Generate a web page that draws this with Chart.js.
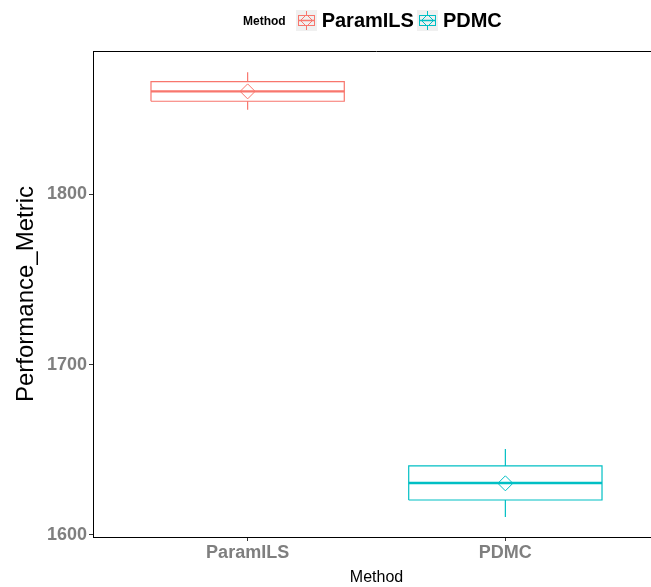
<!DOCTYPE html>
<html>
<head>
<meta charset="utf-8">
<script src="https://cdn.jsdelivr.net/npm/chart.js@4.4.0/dist/chart.umd.min.js"></script>
<style>
html, body { margin: 0; padding: 0; background: #fff; overflow: hidden; width: 651px; height: 587px; }
#wrap { position: relative; width: 670px; height: 587px; }
#legend { position: absolute; top: 9px; left: 243px; display: flex; align-items: center; font-family: 'Liberation Sans', Arial, sans-serif; font-weight: bold; white-space: nowrap; }
#legend .ttl { font-size: 12px; margin-right: 10px; }
#legend .lbl { font-size: 20px; margin-left: 5px; margin-right: 3px; }
#legend svg { display: block; }
</style>
</head>
<body>
<div id="wrap">
  <canvas id="chart" width="670" height="587"></canvas>
  <div id="legend"></div>
</div>
<script>
var methods = ['ParamILS', 'PDMC'];
var colors = ['#F8766D', '#00BFC4'];
var whiskerLow = [1849.5, 1610.5];
var q1 = [1854.5, 1620.5];
var median = [1860.3, 1630.5];
var q3 = [1866, 1640.5];
var whiskerHigh = [1871.5, 1650.5];
var means = [1860.3, 1630.3];
var yTicks = [1600, 1700, 1800];

// legend (html)
var legendHtml = '<span class="ttl">Method</span>';
methods.forEach(function (m, i) {
    var c = colors[i];
    legendHtml += '<svg width="21" height="21">' +
        '<rect width="21" height="21" fill="#f0f0f0"/>' +
        '<line x1="10.5" y1="1" x2="10.5" y2="20" stroke="' + c + '"/>' +
        '<rect x="2.5" y="5.5" width="16" height="10" fill="#f0f0f0" stroke="' + c + '"/>' +
        '<line x1="2.5" y1="10.5" x2="18.5" y2="10.5" stroke="' + c + '" stroke-width="1.5"/>' +
        '<polygon points="10.5,4.5 16.5,10.5 10.5,16.5 4.5,10.5" fill="none" stroke="' + c + '"/>' +
        '</svg><span class="lbl">' + m + '</span>';
});
document.getElementById('legend').innerHTML = legendHtml;

function line(points, color, width) {
    return {
        data: points,
        showLine: true,
        borderColor: color,
        borderWidth: width,
        pointRadius: 0,
        fill: false,
        tension: 0
    };
}

var datasets = [];
methods.forEach(function (m, i) {
    var x = i + 1, w = 0.375, c = colors[i];
    datasets.push(line([{x: x, y: q3[i]}, {x: x, y: whiskerHigh[i]}], c, 1.2));
    datasets.push(line([{x: x, y: q1[i]}, {x: x, y: whiskerLow[i]}], c, 1.2));
    datasets.push(line([
        {x: x - w, y: q1[i]}, {x: x + w, y: q1[i]},
        {x: x + w, y: q3[i]}, {x: x - w, y: q3[i]},
        {x: x - w, y: q1[i]}
    ], c, 1.2));
    datasets.push(line([{x: x - w, y: median[i]}, {x: x + w, y: median[i]}], c, 2.4));
    datasets.push({
        data: [{x: x, y: means[i]}],
        pointStyle: 'rectRot',
        pointRadius: 7.5,
        pointBorderColor: c,
        pointBackgroundColor: 'rgba(0,0,0,0)',
        pointBorderWidth: 1,
        showLine: false
    });
});

var frame = {
    id: 'frame',
    afterDraw: function (chart) {
        var a = chart.chartArea, ctx = chart.ctx;
        ctx.save();
        ctx.strokeStyle = '#000';
        ctx.lineWidth = 1;
        ctx.beginPath();
        ctx.moveTo(a.left, Math.round(a.top) + 0.5);
        ctx.lineTo(a.right, Math.round(a.top) + 0.5);
        ctx.lineTo(a.right, a.bottom);
        ctx.stroke();
        ctx.restore();
    }
};

var tickFont = {family: "'Liberation Sans', Arial, sans-serif", size: 18, weight: 'bold'};

new Chart(document.getElementById('chart'), {
    type: 'scatter',
    data: {datasets: datasets},
    plugins: [frame],
    options: {
        responsive: false,
        animation: false,
        layout: {padding: {top: 51, right: 10, left: 0, bottom: 0}},
        plugins: {legend: {display: false}, tooltip: {enabled: false}},
        scales: {
            x: {
                type: 'linear',
                min: 0.4,
                max: 2.6,
                afterBuildTicks: function (s) { s.ticks = [{value: 1}, {value: 2}]; },
                afterFit: function (s) { s.height = 50; },
                ticks: {
                    callback: function (v) { return methods[v - 1]; },
                    font: tickFont,
                    color: '#7f7f7f',
                    padding: 1
                },
                grid: {display: true, drawOnChartArea: false, drawTicks: true, tickLength: 4, color: '#333'},
                border: {display: true, color: '#000', width: 1},
                title: {
                    display: true,
                    text: 'Method',
                    color: '#000',
                    font: {family: "'Liberation Sans', Arial, sans-serif", size: 16},
                    padding: {top: 0, bottom: 0}
                }
            },
            y: {
                min: 1598.8,
                max: 1884,
                afterBuildTicks: function (s) { s.ticks = yTicks.map(function (v) { return {value: v}; }); },
                afterFit: function (s) { s.width = 93; },
                ticks: {
                    callback: function (v) { return String(v); },
                    font: tickFont,
                    color: '#7f7f7f',
                    padding: 2
                },
                grid: {display: true, drawOnChartArea: false, drawTicks: true, tickLength: 4, color: '#333'},
                border: {display: true, color: '#000', width: 1},
                title: {
                    display: true,
                    text: 'Performance_Metric',
                    color: '#000',
                    font: {family: "'Liberation Sans', Arial, sans-serif", size: 24},
                    padding: {top: 12, bottom: 0}
                }
            }
        }
    }
});
</script>
</body>
</html>
